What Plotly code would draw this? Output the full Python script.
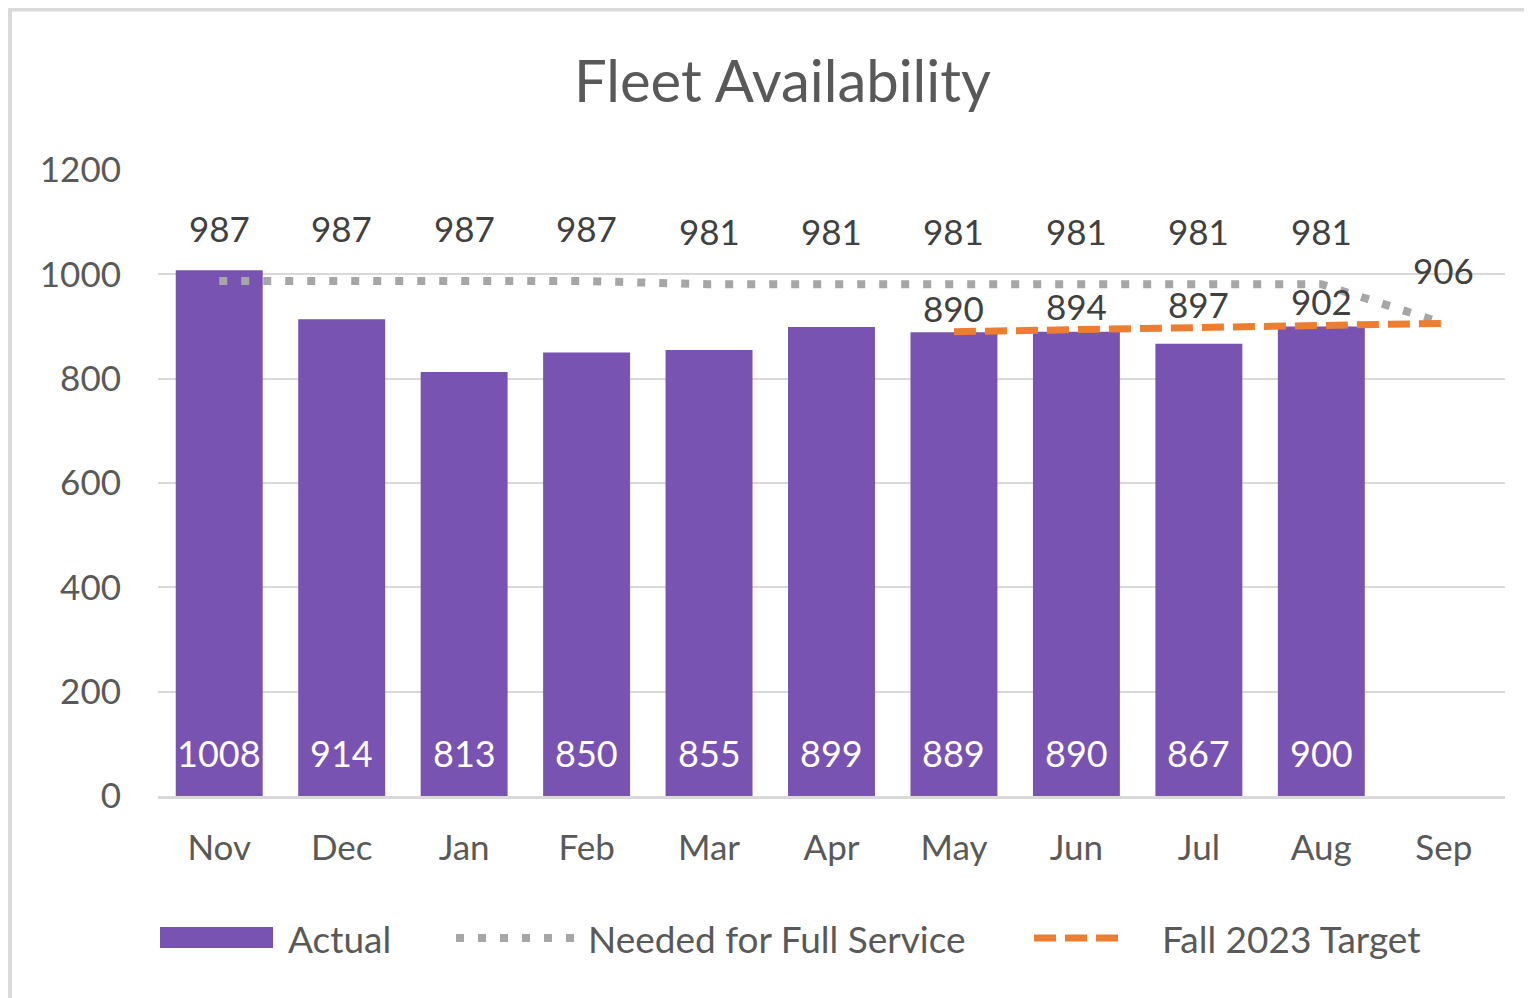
import plotly.graph_objects as go

months = ["Nov", "Dec", "Jan", "Feb", "Mar", "Apr", "May", "Jun", "Jul", "Aug", "Sep"]
actual = [1008, 914, 813, 850, 855, 899, 889, 890, 867, 900, None]
needed = [987, 987, 987, 987, 981, 981, 981, 981, 981, 981, 906]
target = [None, None, None, None, None, None, 890, 894, 897, 902, 906]
target_labels = [None, None, None, None, None, None, "890", "894", "897", "902", None]
y_ticks = [0, 200, 400, 600, 800, 1000, 1200]

FONT = "Lato"
PURPLE = "#7953B2"
GRAY_DOT = "#A6A6A6"
ORANGE = "#ED7D31"
TXT = "#595959"
LBL = "#404040"
DOT_DASH = "8px,14px"
ORANGE_DASH = "22px,9px"

OFF = 8  # page body margin
W, H = 1532, 998
# plot area in screenshot pixels: x 158..1505, y 170..796
ML = 158 - OFF
MT = 170 - OFF
PW = 1505 - 158
PH = 796 - 170
MR = W - ML - PW
MB = H - MT - PH


def px(x):
    return (x - OFF - ML) / PW


def py(y):
    return (MT + PH - (y - OFF)) / PH


fig = go.Figure()
fig.add_trace(go.Bar(x=months, y=actual, marker=dict(color=PURPLE, line=dict(width=0)),
                     showlegend=False, hoverinfo="skip"))
fig.add_trace(go.Scatter(x=months, y=needed, mode="lines",
                         line=dict(color=GRAY_DOT, width=8, dash=DOT_DASH), showlegend=False))
fig.add_trace(go.Scatter(x=months, y=target, mode="lines",
                         line=dict(color=ORANGE, width=7, dash=ORANGE_DASH), showlegend=False))

annotations = []
for m, v in zip(months, actual):
    if v is not None:
        annotations.append(dict(x=m, y=0, yref="y", text=str(v), showarrow=False,
                                yanchor="middle", yshift=43,
                                font=dict(family=FONT, size=36, color="white")))
for m, v in zip(months, needed):
    annotations.append(dict(x=m, y=v, text=str(v), showarrow=False, yanchor="middle",
                            yshift=53, font=dict(family=FONT, size=35, color=LBL)))
for m, v, t in zip(months, target, target_labels):
    if t is not None:
        annotations.append(dict(x=m, y=v, text=t, showarrow=False, yanchor="middle",
                                yshift=24, font=dict(family=FONT, size=35, color=LBL)))

# title
annotations.append(dict(x=px(782), y=py(79), xref="paper", yref="paper",
                        text="Fleet Availability", showarrow=False, xanchor="center",
                        yanchor="middle", font=dict(family=FONT, size=58, color=TXT)))

# custom legend
leg_y = py(938)
annotations += [
    dict(x=px(286), y=leg_y, xref="paper", yref="paper", text="Actual", showarrow=False,
         xanchor="left", yanchor="middle", font=dict(family=FONT, size=37, color=TXT)),
    dict(x=px(586), y=leg_y, xref="paper", yref="paper", text="Needed for Full Service",
         showarrow=False, xanchor="left", yanchor="middle",
         font=dict(family=FONT, size=37, color=TXT)),
    dict(x=px(1160), y=leg_y, xref="paper", yref="paper", text="Fall 2023 Target",
         showarrow=False, xanchor="left", yanchor="middle",
         font=dict(family=FONT, size=37, color=TXT)),
]
shapes = [
    dict(type="rect", xref="paper", yref="paper", x0=px(160), x1=px(273), y0=py(927), y1=py(948),
         fillcolor=PURPLE, line=dict(width=0)),
    dict(type="line", xref="paper", yref="paper", x0=px(456), x1=px(575), y0=leg_y, y1=leg_y,
         line=dict(color=GRAY_DOT, width=8, dash=DOT_DASH)),
    dict(type="line", xref="paper", yref="paper", x0=px(1034), x1=px(1126), y0=leg_y, y1=leg_y,
         line=dict(color=ORANGE, width=7, dash=ORANGE_DASH)),
    dict(type="rect", xref="paper", yref="paper", x0=px(10), x1=px(1545), y0=py(9.5), y1=py(1010),
         line=dict(color="#DADADA", width=4), fillcolor="rgba(0,0,0,0)", layer="below"),
]

fig.update_layout(
    width=W, height=H,
    margin=dict(l=ML, r=MR, t=MT, b=MB),
    paper_bgcolor="white", plot_bgcolor="white",
    bargap=0.29,
    xaxis=dict(showgrid=False, showline=True, linecolor="#D9D9D9", linewidth=3,
               tickfont=dict(family=FONT, size=35, color=TXT), ticks="", range=[-0.5, 10.5],
               ticklabelstandoff=19, fixedrange=True),
    yaxis=dict(range=[0, 1200], tickvals=y_ticks, showgrid=True, gridcolor="#D9D9D9",
               gridwidth=2, zeroline=False, ticks="",
               tickfont=dict(family=FONT, size=35, color=TXT), ticklabelstandoff=36),
    annotations=annotations,
    shapes=shapes,
    showlegend=False,
)

fig.write_html("out.html")
